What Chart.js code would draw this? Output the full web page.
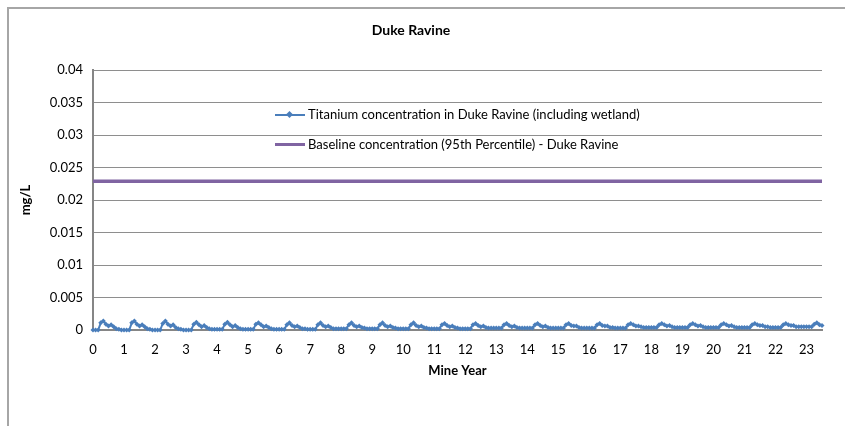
<!DOCTYPE html>
<html>
<head>
<meta charset="utf-8">
<script src="https://cdn.jsdelivr.net/npm/chart.js@4.4.1/dist/chart.umd.min.js"></script>
<style>
  body { margin: 0; background: #fff; }
  #wrap { position: relative; width: 845px; height: 426px; overflow: hidden; font-family: Lato, sans-serif; }
  #frame { position: absolute; left: 7px; top: 7px; width: 900px; height: 500px; border-left: 2px solid #a6a6a6; border-top: 2px solid #a6a6a6; }
  canvas { position: absolute; left: 0; top: 0; }
  .leg { position: absolute; left: 275px; font-size: 13px; color: #000; white-space: nowrap; line-height: 15px; }
  .leg .sample { display: inline-block; position: relative; width: 30px; height: 15px; margin-right: 3px; vertical-align: top; }
  .leg .sample i { position: absolute; left: 0; right: 0; top: 7px; height: 2px; }
  .leg .sample b { position: absolute; left: 12px; top: 5px; width: 5px; height: 5px; background: #4a7ebb; transform: rotate(45deg); }
</style>
</head>
<body>
<div id="wrap">
  <canvas id="chart" width="845" height="426"></canvas>
  <div id="frame"></div>
  <div class="leg" style="top:107px"><span class="sample"><i style="background:#4a7ebb"></i><b></b></span>Titanium concentration in Duke Ravine  (including wetland)</div>
  <div class="leg" style="top:137px"><span class="sample"><i style="background:#8064a2;top:6px;height:3px"></i></span>Baseline concentration (95th Percentile) - Duke Ravine</div>
</div>
<script>
// x axis ticks (mine years)
const yearTicks = [0,1,2,3,4,5,6,7,8,9,10,11,12,13,14,15,16,17,18,19,20,21,22,23];
const yTicks = [0, 0.005, 0.01, 0.015, 0.02, 0.025, 0.03, 0.035, 0.04];

// titanium concentration, monthly values per mine year (mg/L)
const titaniumByYear = [
  [0, 0, 0, 0.0011, 0.0014, 0.0009, 0.0006, 0.0008, 0.0005, 0.0002, 0.0001, 0],
  [0, 0, 0, 0.0011, 0.0014, 0.0009, 0.0006, 0.0008, 0.0005, 0.0002, 0.0001, 0],
  [0, 0, 0, 0.0010, 0.0014, 0.0009, 0.0006, 0.0008, 0.0004, 0.0002, 0.0001, 0],
  [0, 0, 0, 0.0009, 0.0012, 0.0008, 0.0005, 0.0007, 0.0004, 0.0002, 0.0001, 0.0001],
  [0.0001, 0.0001, 0.0001, 0.0009, 0.0012, 0.0008, 0.0005, 0.0007, 0.0004, 0.0002, 0.0001, 0.0001],
  [0.0001, 0.0001, 0.0001, 0.0009, 0.0011, 0.0008, 0.0005, 0.0006, 0.0004, 0.0002, 0.0001, 0.0001],
  [0.0001, 0.0001, 0.0001, 0.0008, 0.0011, 0.0007, 0.0005, 0.0006, 0.0004, 0.0002, 0.0002, 0.0001],
  [0.0001, 0.0001, 0.0001, 0.0008, 0.0011, 0.0007, 0.0005, 0.0006, 0.0004, 0.0002, 0.0002, 0.0002],
  [0.0002, 0.0002, 0.0002, 0.0008, 0.0011, 0.0007, 0.0005, 0.0006, 0.0004, 0.0003, 0.0002, 0.0002],
  [0.0002, 0.0002, 0.0002, 0.0008, 0.0011, 0.0007, 0.0005, 0.0006, 0.0004, 0.0003, 0.0002, 0.0002],
  [0.0002, 0.0002, 0.0002, 0.0008, 0.0011, 0.0007, 0.0005, 0.0006, 0.0004, 0.0003, 0.0002, 0.0002],
  [0.0002, 0.0002, 0.0002, 0.0008, 0.0010, 0.0007, 0.0005, 0.0006, 0.0004, 0.0003, 0.0002, 0.0002],
  [0.0002, 0.0002, 0.0002, 0.0008, 0.0010, 0.0007, 0.0005, 0.0006, 0.0004, 0.0003, 0.0003, 0.0003],
  [0.0003, 0.0003, 0.0003, 0.0008, 0.0010, 0.0007, 0.0005, 0.0006, 0.0004, 0.0003, 0.0003, 0.0003],
  [0.0003, 0.0003, 0.0003, 0.0008, 0.0010, 0.0007, 0.0005, 0.0006, 0.0004, 0.0003, 0.0003, 0.0003],
  [0.0003, 0.0003, 0.0003, 0.0008, 0.0010, 0.0007, 0.0006, 0.0006, 0.0004, 0.0003, 0.0003, 0.0003],
  [0.0003, 0.0003, 0.0003, 0.0008, 0.0010, 0.0007, 0.0006, 0.0006, 0.0004, 0.0004, 0.0003, 0.0003],
  [0.0003, 0.0003, 0.0003, 0.0008, 0.0010, 0.0008, 0.0006, 0.0006, 0.0005, 0.0004, 0.0004, 0.0004],
  [0.0004, 0.0004, 0.0004, 0.0008, 0.0010, 0.0008, 0.0006, 0.0007, 0.0005, 0.0004, 0.0004, 0.0004],
  [0.0004, 0.0004, 0.0004, 0.0008, 0.0010, 0.0008, 0.0006, 0.0007, 0.0005, 0.0004, 0.0004, 0.0004],
  [0.0004, 0.0004, 0.0004, 0.0008, 0.0010, 0.0008, 0.0006, 0.0007, 0.0005, 0.0004, 0.0004, 0.0004],
  [0.0004, 0.0004, 0.0004, 0.0008, 0.0010, 0.0008, 0.0007, 0.0007, 0.0005, 0.0005, 0.0004, 0.0004],
  [0.0004, 0.0004, 0.0004, 0.0008, 0.0010, 0.0008, 0.0007, 0.0007, 0.0005, 0.0005, 0.0005, 0.0005],
  [0.0005, 0.0005, 0.0005, 0.0009, 0.0011, 0.0008, 0.0007]
];

// baseline (95th percentile) for Duke Ravine
const baselineValue = 0.0229;
const baselineYears = [0, 23.5];

const titaniumPoints = [];
titaniumByYear.forEach((months, year) => {
  months.forEach((v, m) => titaniumPoints.push({ x: year + m / 12, y: v }));
});
const baselinePoints = baselineYears.map(x => ({ x: x, y: baselineValue }));

const tickFont = { family: 'Lato', size: 13 };
const titleFont = { family: 'Lato', size: 13, weight: 'bold' };

new Chart(document.getElementById('chart'), {
  type: 'line',
  data: {
    datasets: [
      {
        label: 'Titanium concentration in Duke Ravine (including wetland)',
        data: titaniumPoints,
        borderColor: '#4a7ebb',
        backgroundColor: '#4a7ebb',
        borderWidth: 2,
        pointStyle: 'rectRot',
        pointRadius: 2.5,
        pointBorderWidth: 0,
        tension: 0,
        clip: 6
      },
      {
        label: 'Baseline concentration (95th Percentile) - Duke Ravine',
        data: baselinePoints,
        borderColor: '#8064a2',
        borderWidth: 3.5,
        pointRadius: 0
      }
    ]
  },
  options: {
    responsive: false,
    animation: false,
    devicePixelRatio: 1,
    layout: { padding: { left: 0, right: 23, top: 0, bottom: 36 } },
    plugins: {
      legend: { display: false },
      tooltip: { enabled: false },
      title: {
        display: true,
        text: 'Duke Ravine',
        color: '#000',
        font: { family: 'Lato', size: 14, weight: 'bold' },
        padding: { top: 22, bottom: 31.2 }
      }
    },
    scales: {
      x: {
        type: 'linear',
        min: 0,
        max: 23.5,
        afterFit: (s) => { s.height = 60; },
        afterBuildTicks: (s) => { s.ticks = yearTicks.map(v => ({ value: v })); },
        grid: { display: false, drawTicks: false },
        border: { display: true, color: '#868686', width: 2 },
        ticks: { color: '#000', font: tickFont, padding: 12, maxRotation: 0, autoSkip: false },
        title: { display: true, text: 'Mine Year', color: '#000', font: titleFont, padding: { top: 0, bottom: 11 } }
      },
      y: {
        min: 0,
        max: 0.04,
        afterFit: (s) => { s.width = 93; },
        afterBuildTicks: (s) => { s.ticks = yTicks.map(v => ({ value: v })); },
        grid: { color: '#8e8e8e', lineWidth: 1, drawTicks: false },
        border: { display: true, color: '#868686', width: 2 },
        ticks: {
          color: '#000',
          font: tickFont,
          padding: 10,
          callback: (v) => String(+v.toFixed(3))
        },
        title: { display: true, text: 'mg/L', color: '#000', font: titleFont, padding: { top: 18, bottom: 0 } }
      }
    }
  }
});
</script>
</body>
</html>
